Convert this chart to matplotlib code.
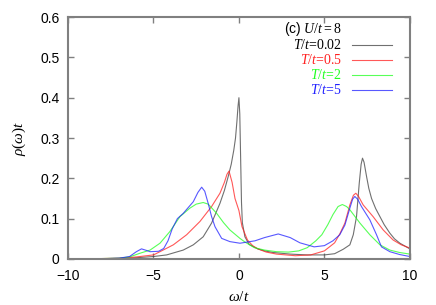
import numpy as np
import matplotlib
matplotlib.use('Agg')
import matplotlib.pyplot as plt

plt.rcParams['font.family'] = ['Liberation Sans', 'DejaVu Sans']
plt.rcParams['mathtext.fontset'] = 'custom'
plt.rcParams['mathtext.it'] = 'Liberation Serif:italic'
plt.rcParams['mathtext.rm'] = 'Liberation Serif'
plt.rcParams['mathtext.sf'] = 'Liberation Sans'

# T/t = 0.02
w_a = [-10, -8, -7, -6, -5, -4.23, -3.26, -2.67, -2.09, -1.6, -1.11, -0.85, -0.63, -0.45,
       -0.3, -0.2, -0.12, -0.05, 0.0, 0.05, 0.1, 0.15, 0.2, 0.35, 0.6, 1.1, 1.5, 2, 3, 4,
       5, 5.6, 6.1, 6.49, 6.69, 6.88, 7.04, 7.15, 7.23, 7.32, 7.47, 7.6, 7.76, 8.0, 8.25,
       8.5, 8.83, 9.1, 9.42, 10]
r_a = [0.0, 0.0005, 0.001, 0.003, 0.006, 0.01, 0.022, 0.035, 0.055, 0.089, 0.138, 0.17,
       0.204, 0.235, 0.27, 0.30, 0.34, 0.38, 0.40, 0.36, 0.25, 0.14, 0.09, 0.055, 0.036,
       0.025, 0.02, 0.016, 0.012, 0.01, 0.01, 0.013, 0.024, 0.035, 0.06, 0.105, 0.188,
       0.235, 0.25, 0.24, 0.204, 0.175, 0.15, 0.125, 0.105, 0.085, 0.064, 0.05, 0.039,
       0.025]

# T/t = 0.5
w_b = [-10, -8, -7, -6, -5, -4.62, -3.84, -3.06, -2.28, -1.6, -1.11, -0.85, -0.7, -0.58,
       -0.4, -0.23, 0.0, 0.18, 0.5, 0.8, 1.1, 1.6, 2.2, 3.3, 4.2, 5, 5.6, 5.9, 6.2, 6.49,
       6.7, 6.84, 7.0, 7.27, 7.85, 8.44, 9.02, 9.5, 10]
r_b = [0.0, 0.001, 0.002, 0.005, 0.01, 0.018, 0.035, 0.06, 0.093, 0.13, 0.163, 0.19,
       0.21, 0.218, 0.19, 0.15, 0.12, 0.08, 0.047, 0.033, 0.025, 0.017, 0.012, 0.008,
       0.01, 0.02, 0.04, 0.062, 0.089, 0.134, 0.158, 0.163, 0.155, 0.134, 0.105, 0.072,
       0.047, 0.035, 0.027]

# T/t = 2
w_c = [-10, -8, -7, -6.4, -5.8, -5.2, -4.62, -4.04, -3.45, -2.87, -2.5, -2.09, -1.8, -1.3,
       -0.9, -0.53, 0.06, 0.35, 0.9, 1.5, 2.2, 2.9, 3.5, 4.0, 4.5, 4.85, 5.2, 5.5, 5.8,
       6.05, 6.3, 6.49, 7.08, 7.66, 8.25, 8.83, 9.4, 10]
r_c = [0.0, 0.001, 0.002, 0.005, 0.014, 0.022, 0.039, 0.068, 0.105, 0.126, 0.136, 0.14,
       0.136, 0.113, 0.09, 0.072, 0.051, 0.042, 0.028, 0.022, 0.018, 0.017, 0.02, 0.028,
       0.045, 0.06, 0.085, 0.11, 0.13, 0.135, 0.13, 0.122, 0.089, 0.06, 0.035, 0.022,
       0.016, 0.012]

# T/t = 5
w_d = [-10, -8, -7, -6.4, -6.0, -5.7, -5.4, -5.2, -4.7, -4.4, -4.15, -3.9, -3.6, -3.26,
       -2.67, -2.4, -2.18, -2.0, -1.8, -1.6, -1.4, -1.01, -0.53, 0.06, 0.94, 1.5, 2.3,
       3.0, 3.57, 4.4, 5.0, 5.5, 5.9, 6.2, 6.49, 6.65, 6.78, 6.95, 7.17, 7.66, 8.05, 8.34,
       8.83, 9.4, 10]
r_d = [0.0, 0.0005, 0.002, 0.006, 0.018, 0.025, 0.021, 0.018, 0.019, 0.026, 0.045, 0.075,
       0.1, 0.113, 0.142, 0.165, 0.178, 0.168, 0.138, 0.105, 0.08, 0.051, 0.043, 0.039,
       0.045, 0.053, 0.062, 0.053, 0.04, 0.03, 0.033, 0.045, 0.06, 0.084, 0.126, 0.148,
       0.155, 0.148, 0.13, 0.097, 0.06, 0.03, 0.018, 0.011, 0.006]

labels = [r'$T/t$=0.02', r'$T/t$=0.5', r'$T/t$=2', r'$T/t$=5']
colors = ['#404040', '#ff2020', '#20ff20', '#2020ff']

fig = plt.figure(figsize=(4.36, 3.05), dpi=100)
ax = fig.add_axes([0.156, 0.151, 0.784, 0.793])

series = [(w_a, r_a), (w_b, r_b), (w_c, r_c), (w_d, r_d)]
for (w, r), c in zip(series, colors):
    ax.plot(w, r, color=c, lw=0.8, alpha=0.75)

ax.set_xlim(-10, 10)
ax.set_ylim(0, 0.6)
ax.set_xticks([-10, -5, 0, 5, 10])
ax.set_yticks([0, 0.1, 0.2, 0.3, 0.4, 0.5, 0.6])
ax.set_yticklabels(['0', '0.1', '0.2', '0.3', '0.4', '0.5', '0.6'])
ax.tick_params(direction='in', length=4, width=1, color='#808080',
               top=True, right=True, labelsize=10)
ax.tick_params(axis='x', pad=7)
ax.tick_params(axis='y', pad=6)
for s in ax.spines.values():
    s.set_color('#808080')
    s.set_linewidth(1.5)

ax.set_xlabel(r'$\omega/t$', fontsize=11, labelpad=5)
ax.set_ylabel(r'$\rho(\omega)t$', fontsize=11, labelpad=9)

# legend, gnuplot style
tx = 0.801
ax.text(tx, 0.952, r'$\mathsf{(c)}\ U/t\mathrm{=8}$', transform=ax.transAxes,
        ha='right', va='center', fontsize=10, family='Liberation Serif')
ys = [0.886, 0.822, 0.760, 0.700]
for lab, c, y in zip(labels, colors, ys):
    ax.text(tx, y, lab, transform=ax.transAxes, ha='right', va='center',
            fontsize=10, color=c if c != '#404040' else 'black', family='Liberation Serif')
    ax.plot([0.830, 0.947], [y, y], transform=ax.transAxes, color=c, lw=0.8, alpha=0.75)

fig.savefig('out.png', dpi=100)
